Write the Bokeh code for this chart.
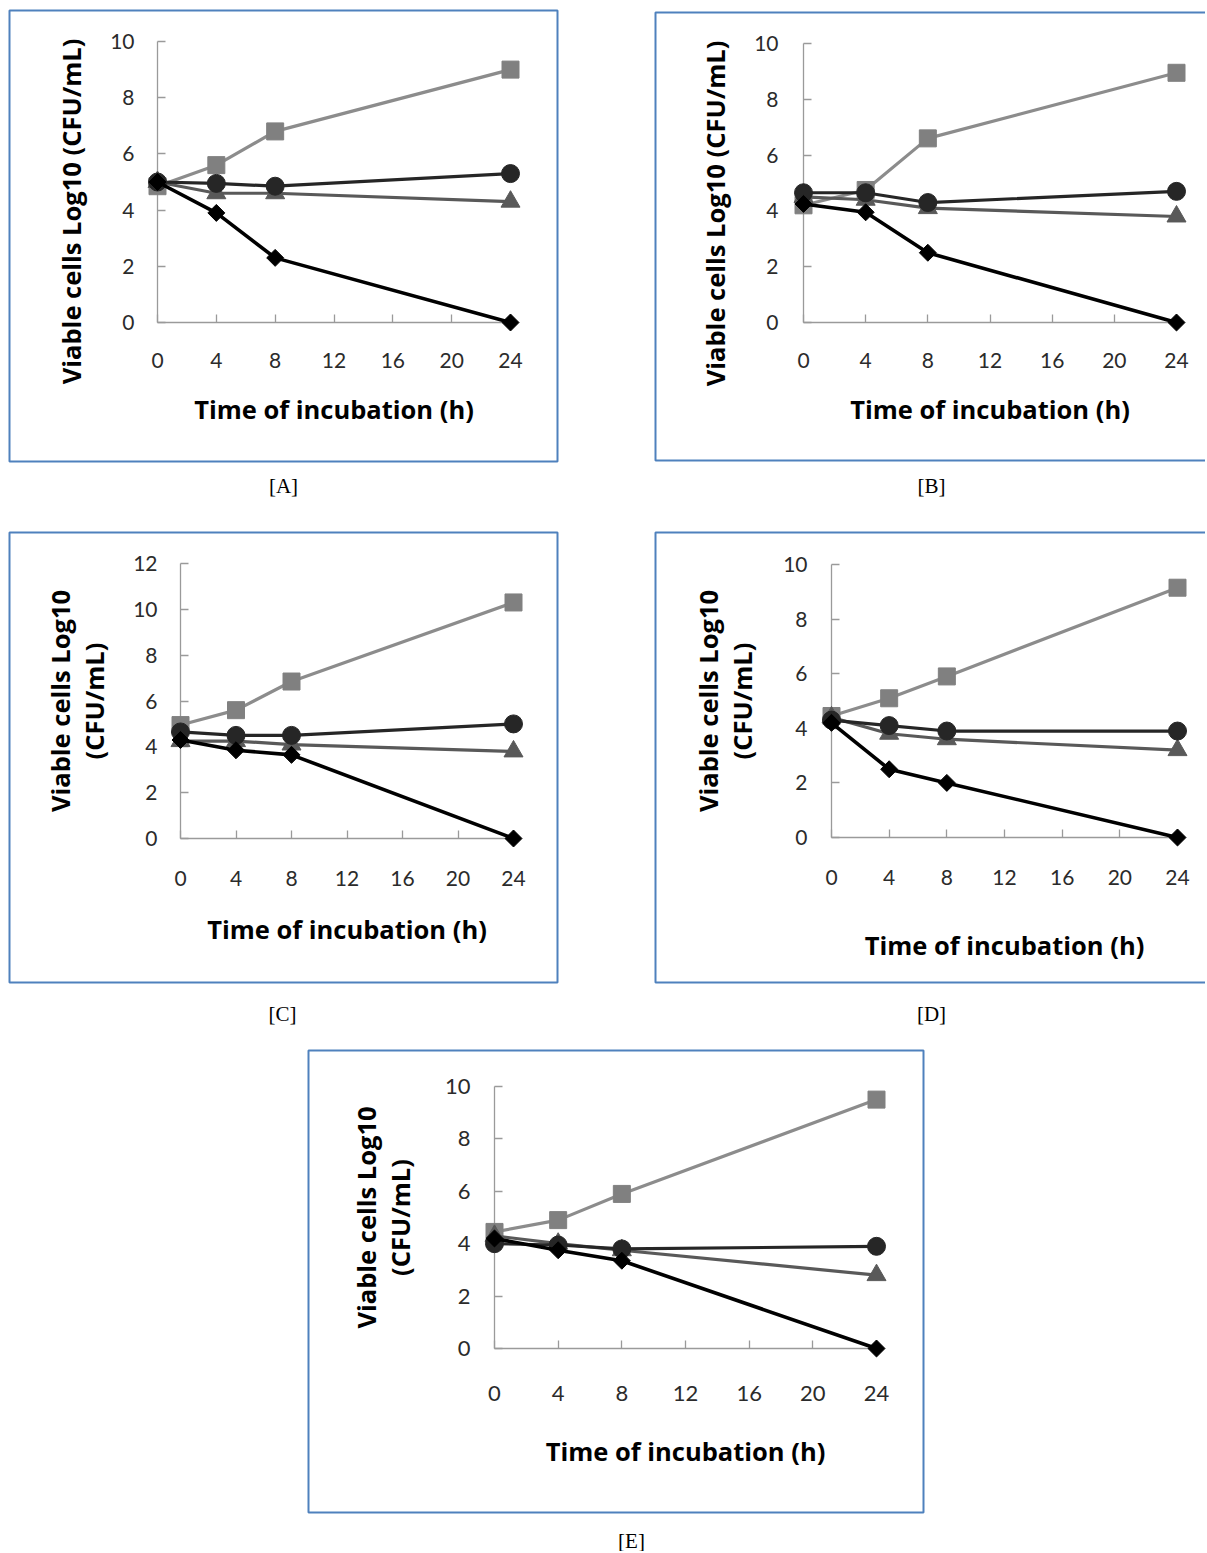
import numpy as np
from bokeh.plotting import figure
from bokeh.models import FixedTicker, BoxAnnotation, Label, Range1d
from bokeh.layouts import row, column
from bokeh.embed import file_html
from bokeh.resources import INLINE

# ---------------- data ----------------
hours = [0, 4, 8, 24]
x_ticks = [0, 4, 8, 12, 16, 20, 24]
y_ticks_10 = [0, 2, 4, 6, 8, 10]
y_ticks_12 = [0, 2, 4, 6, 8, 10, 12]
x_title = "Time of incubation (h)"
y_title_one = "Viable cells Log10 (CFU/mL)"
y_title_two = "Viable cells Log10\n(CFU/mL)"
captions = ["[A]", "[B]", "[C]", "[D]", "[E]"]

A_square = [4.85, 5.6, 6.8, 9.0]
A_circle = [5.0, 4.95, 4.85, 5.3]
A_triangle = [5.0, 4.6, 4.6, 4.3]
A_diamond = [5.0, 3.9, 2.3, 0.0]

B_square = [4.2, 4.75, 6.6, 8.95]
B_circle = [4.65, 4.65, 4.3, 4.7]
B_triangle = [4.5, 4.4, 4.1, 3.8]
B_diamond = [4.25, 3.95, 2.5, 0.0]

C_square = [4.95, 5.6, 6.85, 10.3]
C_circle = [4.65, 4.5, 4.5, 5.0]
C_triangle = [4.25, 4.25, 4.1, 3.8]
C_diamond = [4.3, 3.85, 3.65, 0.0]

D_square = [4.45, 5.1, 5.9, 9.15]
D_circle = [4.3, 4.1, 3.9, 3.9]
D_triangle = [4.4, 3.8, 3.6, 3.2]
D_diamond = [4.2, 2.5, 2.0, 0.0]

E_square = [4.45, 4.9, 5.9, 9.5]
E_circle = [4.0, 3.95, 3.8, 3.9]
E_triangle = [4.3, 4.0, 3.75, 2.8]
E_diamond = [4.2, 3.75, 3.35, 0.0]

# ---------------- styles ----------------
SQ_LINE, SQ_FILL = "#8c8c8c", "#808080"
TR_COL = "#595959"
CI_COL = "#262626"
DI_COL = "#000000"
AXIS_COL = "#9a9a9a"
TICK_TXT = "#2b2b2b"
BOX_COL = "#4F81BD"
TICK_FONT = "Lato"
TITLE_FONT = "Open Sans"
TITLE_FS = "25.5px"

# panel geometry in page pixels (figure rect, axis pixel anchors, frame box, caption, titles)
panels = [
    dict(cap=captions[0], data=(A_square, A_circle, A_triangle, A_diamond), ymax=10, yt=y_ticks_10,
         fig=(0, 0, 600, 525), axis=(157, 510, 322, 41), box=(9, 10, 557, 461), capxy=(283, 485),
         ytitle=("one", 70, 211), xls=30, xts=21, yls=23, yts=0, tick_fs=21),
    dict(cap=captions[1], data=(B_square, B_circle, B_triangle, B_diamond), ymax=10, yt=y_ticks_10,
         fig=(600, 0, 605, 525), axis=(803, 1176, 322, 43), box=(655, 12, 1220, 460), capxy=(931, 485),
         ytitle=("one", 714, 213), xls=30, xts=21, yls=25, yts=0, tick_fs=21),
    dict(cap=captions[2], data=(C_square, C_circle, C_triangle, C_diamond), ymax=12, yt=y_ticks_12,
         fig=(0, 525, 600, 515), axis=(180, 513, 838, 563), box=(9, 532, 557, 982), capxy=(282, 1013),
         ytitle=("two", 0, 0), xls=32, xts=23, yls=23, yts=19, tick_fs=21),
    dict(cap=captions[3], data=(D_square, D_circle, D_triangle, D_diamond), ymax=10, yt=y_ticks_10,
         fig=(600, 525, 605, 515), axis=(831, 1177, 837, 564), box=(655, 532, 1220, 982), capxy=(931, 1013),
         ytitle=("two", 0, 0), xls=32, xts=40, yls=24, yts=21, tick_fs=21),
    dict(cap=captions[4], data=(E_square, E_circle, E_triangle, E_diamond), ymax=10, yt=y_ticks_10,
         fig=(0, 1040, 1205, 511), axis=(494, 876, 1348, 1086), box=(308, 1050, 923, 1512), capxy=(631, 1540),
         ytitle=("two", 0, 0), xls=37, xts=30, yls=24, yts=25, tick_fs=22),
]


def make_panel(cfg):
    fx, fy, w, h = cfg["fig"]
    x0, x24, y0, ytop = cfg["axis"]
    ymax = cfg["ymax"]
    sx = (x24 - x0) / 24.0
    sy = (y0 - ytop) / float(ymax)

    def dx(px):
        return (px - x0) / sx

    def dy(py):
        return (y0 - py) / sy

    p = figure(width=w, height=h, output_backend="svg", toolbar_location=None, title=None,
               x_range=Range1d(dx(fx), dx(fx + w)), y_range=Range1d(dy(fy + h), dy(fy)),
               min_border=0, min_border_left=0, min_border_right=0,
               min_border_top=0, min_border_bottom=0)
    p.outline_line_color = None
    p.xgrid.visible = False
    p.ygrid.visible = False
    p.background_fill_color = "white"
    p.border_fill_color = "white"

    xa = p.xaxis[0]
    ya = p.yaxis[0]
    xa.fixed_location = 0
    ya.fixed_location = 0
    xa.bounds = (0, 24)
    ya.bounds = (0, ymax)
    xa.ticker = FixedTicker(ticks=x_ticks)
    ya.ticker = FixedTicker(ticks=cfg["yt"])
    for ax in (xa, ya):
        ax.axis_line_color = AXIS_COL
        ax.axis_line_width = 1.3
        ax.major_tick_line_color = AXIS_COL
        ax.major_tick_line_width = 1.3
        ax.major_tick_in = 8
        ax.major_tick_out = 0
        ax.minor_tick_line_color = None
        ax.major_label_text_font = TICK_FONT
        ax.major_label_text_font_size = "%dpx" % cfg["tick_fs"]
        ax.major_label_text_color = TICK_TXT
        ax.axis_label_text_font = TITLE_FONT
        ax.axis_label_text_font_style = "bold"
        ax.axis_label_text_font_size = TITLE_FS
        ax.axis_label_text_color = "black"
    xa.major_label_standoff = cfg["xls"]
    xa.axis_label = x_title
    xa.axis_label_standoff = cfg["xts"]
    ya.major_label_standoff = cfg["yls"]

    kind, tx, ty = cfg["ytitle"]
    if kind == "two":
        ya.axis_label = y_title_two
        ya.axis_label_standoff = cfg["yts"]
        ya.axis_label_text_line_height = 1.0
    else:
        p.add_layout(Label(x=dx(tx), y=dy(ty), text=y_title_one, angle=np.pi / 2,
                           text_font=TITLE_FONT, text_font_style="bold", text_font_size=TITLE_FS,
                           text_color="black", text_align="center", text_baseline="middle"))

    sq, ci, tr, di = cfg["data"]
    rs = []
    rs.append(p.line(hours, sq, line_color=SQ_LINE, line_width=3.2))
    rs.append(p.scatter(hours, sq, marker="square", size=17, fill_color=SQ_FILL, line_color=SQ_FILL))
    rs.append(p.line(hours, tr, line_color=TR_COL, line_width=3.2))
    rs.append(p.scatter(hours, tr, marker="triangle", size=19, fill_color=TR_COL, line_color=TR_COL))
    rs.append(p.line(hours, ci, line_color=CI_COL, line_width=3.2))
    rs.append(p.scatter(hours, ci, marker="circle", size=18, fill_color=CI_COL, line_color=CI_COL))
    rs.append(p.line(hours, di, line_color=DI_COL, line_width=3.6))
    rs.append(p.scatter(hours, di, marker="square", angle=np.pi / 4, size=12,
                        fill_color=DI_COL, line_color=DI_COL))
    for r in rs:
        r.level = "overlay"

    bl, bt, br, bb = cfg["box"]
    p.add_layout(BoxAnnotation(left=dx(bl), right=dx(br), top=dy(bt), bottom=dy(bb),
                               fill_alpha=0, line_color=BOX_COL, line_width=2, line_alpha=1))
    cx, cy = cfg["capxy"]
    p.add_layout(Label(x=dx(cx), y=dy(cy), text=cfg["cap"], text_font="Liberation Serif",
                       text_font_size="21px", text_color="black", text_align="center",
                       text_baseline="middle"))
    return p


figs = [make_panel(c) for c in panels]

layout = column(
    row(figs[0], figs[1], spacing=0),
    row(figs[2], figs[3], spacing=0),
    figs[4],
    spacing=0,
)

open("out.html", "w").write(file_html(layout, INLINE))
